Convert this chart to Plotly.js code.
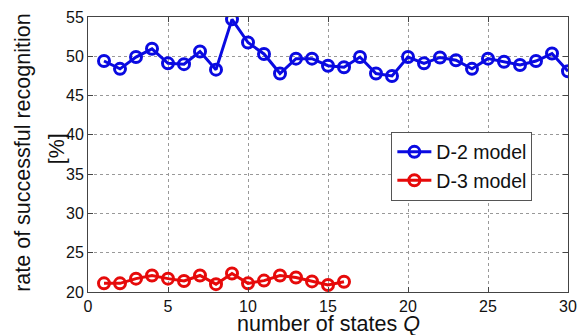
<!DOCTYPE html>
<html><head><meta charset="utf-8">
<script src="https://cdn.plot.ly/plotly-3.0.1.min.js"></script>
<style>html,body{margin:0;padding:0;background:#fff}#chart{width:582px;height:335px}</style>
</head><body><div id="chart"></div>
<script>
const statesD2 = [1,2,3,4,5,6,7,8,9,10,11,12,13,14,15,16,17,18,19,20,21,22,23,24,25,26,27,28,29,30];
const rateD2 = [49.4,48.4,49.9,50.95,49.1,49.0,50.6,48.3,54.7,51.75,50.3,47.8,49.7,49.7,48.8,48.6,49.9,47.8,47.5,49.9,49.1,49.85,49.5,48.4,49.7,49.3,48.9,49.4,50.35,48.1];
const statesD3 = [1,2,3,4,5,6,7,8,9,10,11,12,13,14,15,16];
const rateD3 = [21.1,21.1,21.7,22.1,21.7,21.4,22.1,21.0,22.35,21.1,21.45,22.1,21.85,21.35,20.9,21.3];
const seriesNames = ['D-2 model','D-3 model'];
const xTicks = [0,5,10,15,20,25,30];
const yTicks = [20,25,30,35,40,45,50,55];
const yTitleLines = ['rate of successful recognition','[%]'];
const xTitle = 'number of states <i>Q</i>';

const font = 'Liberation Sans, Arial';
const blue = 'rgb(10,10,225)', red = 'rgb(230,10,10)';
const traces = [
  {x: statesD2, y: rateD2, name: seriesNames[0], type:'scatter', mode:'lines+markers',
   line:{color:blue, width:3}, marker:{symbol:'circle-open', size:11, color:blue, line:{width:3, color:blue}}},
  {x: statesD3, y: rateD3, name: seriesNames[1], type:'scatter', mode:'lines+markers',
   line:{color:red, width:3}, marker:{symbol:'circle-open', size:11, color:red, line:{width:3, color:red}}}
];
const axisCommon = {showline:true, mirror:'ticks', linecolor:'#444', linewidth:1, ticks:'inside', ticklen:5, tickcolor:'#444',
  showgrid:true, gridcolor:'#999', griddash:'dot', gridwidth:1, zeroline:false, tickfont:{family:font, size:16, color:'#111'}};
const layout = {
  width:582, height:335, paper_bgcolor:'#fff', plot_bgcolor:'#fff',
  margin:{l:88, r:14, t:17, b:43},
  showlegend:true,
  legend:{x:0.632, y:0.583, xanchor:'left', yanchor:'top', bgcolor:'#fff', bordercolor:'#555', borderwidth:1,
    font:{family:font, size:19.5, color:'#111'}, itemwidth:34, tracegroupgap:0},
  xaxis:Object.assign({}, axisCommon, {range:[0,30], tickvals:xTicks, ticktext:xTicks.map(String)}),
  yaxis:Object.assign({}, axisCommon, {range:[20,55], tickvals:yTicks, ticktext:yTicks.map(String)}),
  annotations:[
    {text:xTitle, xref:'paper', yref:'paper', x:0.5, y:-0.118, showarrow:false,
     xanchor:'center', yanchor:'middle', font:{family:font, size:21.5, color:'#111'}},
    {text:yTitleLines[0], xref:'paper', yref:'paper', x:-0.137, y:0.507, textangle:-90, showarrow:false,
     xanchor:'center', yanchor:'middle', font:{family:font, size:21.5, color:'#111'}},
    {text:yTitleLines[1], xref:'paper', yref:'paper', x:-0.064, y:0.52, textangle:-90, showarrow:false,
     xanchor:'center', yanchor:'middle', font:{family:font, size:21.5, color:'#111'}}
  ]
};
Plotly.newPlot('chart', traces, layout, {displayModeBar:false, staticPlot:true});
</script></body></html>
